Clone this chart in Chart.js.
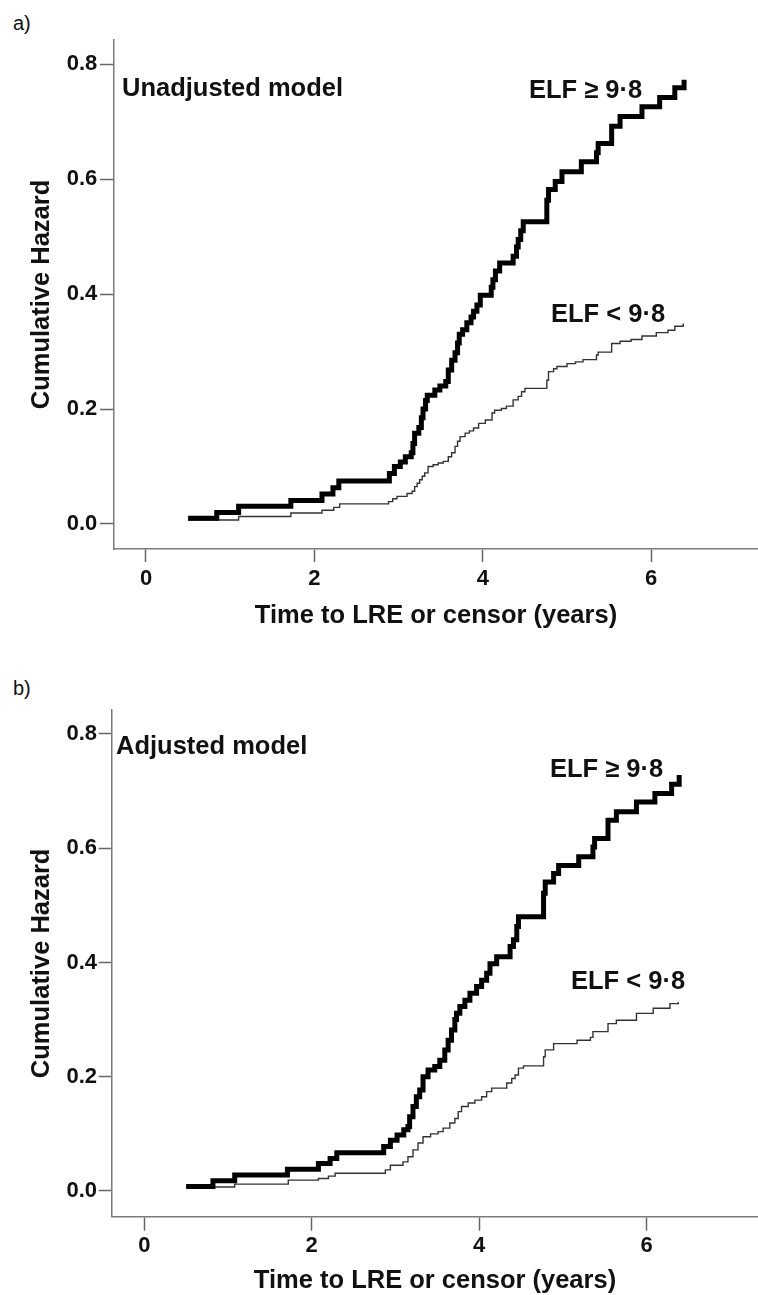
<!DOCTYPE html>
<html>
<head>
<meta charset="utf-8">
<script src="https://cdn.jsdelivr.net/npm/chart.js@4"></script>
<style>
html,body{margin:0;padding:0;background:#fff;overflow:hidden;}
#wrap{position:relative;width:758px;height:1295px;font-family:"Liberation Sans",Arial,sans-serif;color:#111;}
canvas{position:absolute;left:0;}
.lab{position:absolute;white-space:nowrap;line-height:1;font-weight:bold;font-size:25.5px;}
.pl{position:absolute;line-height:1;font-size:20px;}
</style>
</head>
<body>
<div id="wrap">
<div class="pl" style="left:13px;top:13px">a)</div>
<div class="pl" style="left:13px;top:678px">b)</div>
<canvas id="chart-a" width="758" height="650" style="top:0"></canvas>
<canvas id="chart-b" width="758" height="650" style="top:660px"></canvas>
<div class="lab" style="left:122px;top:75px">Unadjusted model</div>
<div class="lab" style="left:529px;top:77px">ELF ≥ 9·8</div>
<div class="lab" style="left:551px;top:301px">ELF &lt; 9·8</div>
<div class="lab" style="left:116px;top:733px">Adjusted model</div>
<div class="lab" style="left:550px;top:756px">ELF ≥ 9·8</div>
<div class="lab" style="left:571px;top:968px">ELF &lt; 9·8</div>
</div>
<script>
// tick values
let xTicks=[0,2,4,6];
let yTicks=[0,0.2,0.4,0.6,0.8];

// a) unadjusted model, ELF >= 9.8
let unadjHighT=[0.50,0.84,1.10,1.72,2.09,2.22,2.29,2.89,2.95,3.02,3.08,3.15,3.17,3.19,3.24,3.27,3.29,3.32,3.34,3.43,3.49,3.56,3.59,3.63,3.67,3.70,3.72,3.76,3.81,3.86,3.89,3.93,3.97,4.10,4.12,4.15,4.20,4.36,4.40,4.42,4.45,4.48,4.76,4.78,4.86,4.94,5.17,5.35,5.37,5.53,5.63,5.89,6.10,6.28,6.39];
let unadjHighH=[0.010,0.020,0.031,0.041,0.052,0.063,0.075,0.088,0.100,0.108,0.117,0.124,0.140,0.158,0.168,0.185,0.200,0.215,0.224,0.233,0.240,0.248,0.268,0.285,0.298,0.315,0.330,0.338,0.350,0.360,0.370,0.381,0.398,0.412,0.425,0.440,0.454,0.466,0.482,0.495,0.510,0.526,0.563,0.582,0.596,0.613,0.630,0.646,0.662,0.692,0.709,0.726,0.742,0.759,0.773];

// a) unadjusted model, ELF < 9.8
let unadjLowT=[0.50,1.10,1.72,2.09,2.23,2.30,2.88,2.93,2.98,3.10,3.16,3.19,3.22,3.25,3.28,3.31,3.35,3.41,3.47,3.53,3.59,3.63,3.67,3.70,3.73,3.79,3.84,3.89,3.95,4.03,4.11,4.14,4.22,4.28,4.36,4.42,4.46,4.50,4.76,4.78,4.84,4.88,5.00,5.10,5.19,5.35,5.37,5.53,5.63,5.76,5.89,6.06,6.20,6.28,6.38];
let unadjLowH=[0.007,0.013,0.019,0.024,0.029,0.035,0.039,0.044,0.048,0.053,0.057,0.065,0.071,0.077,0.083,0.089,0.100,0.103,0.106,0.109,0.117,0.124,0.135,0.144,0.152,0.158,0.162,0.167,0.175,0.181,0.193,0.198,0.201,0.205,0.216,0.222,0.230,0.236,0.250,0.265,0.270,0.274,0.279,0.282,0.286,0.294,0.299,0.314,0.318,0.321,0.327,0.333,0.337,0.344,0.349];

// b) adjusted model, ELF >= 9.8
let adjHighT=[0.50,0.82,1.08,1.71,2.08,2.22,2.30,2.86,2.94,3.02,3.10,3.15,3.17,3.21,3.25,3.29,3.33,3.39,3.47,3.53,3.59,3.63,3.67,3.71,3.73,3.77,3.83,3.89,3.97,4.03,4.09,4.13,4.21,4.37,4.41,4.45,4.47,4.77,4.79,4.89,4.95,5.19,5.36,5.38,5.54,5.64,5.88,6.10,6.30,6.39];
let adjHighH=[0.008,0.018,0.028,0.038,0.048,0.057,0.067,0.078,0.089,0.098,0.107,0.113,0.130,0.148,0.165,0.177,0.200,0.212,0.218,0.229,0.247,0.264,0.282,0.300,0.311,0.323,0.334,0.346,0.358,0.369,0.381,0.398,0.410,0.428,0.440,0.463,0.480,0.521,0.541,0.556,0.570,0.585,0.602,0.617,0.649,0.664,0.681,0.696,0.712,0.728];

// b) adjusted model, ELF < 9.8
let adjLowT=[0.50,1.08,1.72,2.08,2.20,2.28,2.88,2.94,3.09,3.15,3.21,3.27,3.33,3.42,3.51,3.57,3.65,3.71,3.75,3.79,3.87,3.95,4.03,4.09,4.15,4.33,4.39,4.43,4.47,4.53,4.77,4.79,4.89,5.17,5.33,5.36,5.54,5.64,5.88,6.08,6.28,6.38];
let adjLowH=[0.007,0.012,0.019,0.022,0.026,0.031,0.037,0.045,0.051,0.060,0.072,0.084,0.095,0.100,0.104,0.110,0.119,0.127,0.139,0.148,0.154,0.159,0.165,0.174,0.180,0.189,0.197,0.203,0.215,0.219,0.235,0.247,0.258,0.264,0.269,0.279,0.293,0.299,0.311,0.320,0.328,0.331];

let FONT='"Liberation Sans", Arial, sans-serif';

function pts(t,h){
return t.map((v,i)=>({x:v,y:h[i]}));
}

function makeChart(id,highT,highH,lowT,lowH,o){

new Chart(
document.getElementById(id),
{
type:"line",
data:{
datasets:[
{
data:pts(highT,highH),
stepped:"before",
borderColor:"#000",
borderWidth:5,
pointRadius:0,
fill:false
},
{
data:pts(lowT,lowH),
stepped:"before",
borderColor:"#333",
borderWidth:1.4,
pointRadius:0,
fill:false
}
]
},
options:{
responsive:false,
devicePixelRatio:1,
animation:false,
layout:{padding:{top:o.padTop,left:0,right:0,bottom:0}},
plugins:{legend:{display:false},tooltip:{enabled:false}},
scales:{
x:{
type:"linear",
min:o.xMin,
max:o.xMax,
afterBuildTicks:s=>{s.ticks=xTicks.map(v=>({value:v}));},
afterFit:s=>{s.height=o.xHeight;},
ticks:{
autoSkip:false,
maxRotation:0,
padding:o.xTickPad,
color:"#111",
font:{family:FONT,size:22,weight:"bold"},
callback:v=>String(v)
},
grid:{drawOnChartArea:false,drawTicks:true,tickLength:o.xTickLen,tickColor:"#666",tickWidth:1.5},
border:{display:true,color:"#7a7a7a",width:1.5},
title:{
display:true,
text:"Time to LRE or censor (years)",
color:"#111",
font:{family:FONT,size:25.5,weight:"bold"},
padding:{top:0,bottom:o.xTitlePad}
}
},
y:{
type:"linear",
min:o.yMin,
max:0.842,
afterBuildTicks:s=>{s.ticks=yTicks.map(v=>({value:v}));},
afterFit:s=>{s.width=o.yWidth;},
ticks:{
autoSkip:false,
padding:o.yTickPad,
color:"#111",
font:{family:FONT,size:22,weight:"bold"},
callback:v=>v.toFixed(1)
},
grid:{drawOnChartArea:false,drawTicks:true,tickLength:o.yTickLen,tickColor:"#666",tickWidth:1.5},
border:{display:true,color:"#7a7a7a",width:1.5},
title:{
display:true,
text:"Cumulative Hazard",
color:"#111",
font:{family:FONT,size:25.5,weight:"bold"},
padding:{top:26.4,bottom:0}
}
}
}
}
}
);

}

makeChart("chart-a",unadjHighT,unadjHighH,unadjLowT,unadjLowH,{
padTop:40,xMin:-0.380,xMax:7.268,yMin:-0.0435,
xHeight:101,yWidth:114,
xTickLen:13,xTickPad:3.8,xTitlePad:18.7,
yTickLen:14,yTickPad:2.7
});

makeChart("chart-b",adjHighT,adjHighH,adjLowT,adjLowH,{
padTop:50,xMin:-0.386,xMax:7.332,yMin:-0.045,
xHeight:93.3,yWidth:112,
xTickLen:14,xTickPad:1.8,xTitlePad:13.7,
yTickLen:13.4,yTickPad:1.6
});
</script>
</body>
</html>
